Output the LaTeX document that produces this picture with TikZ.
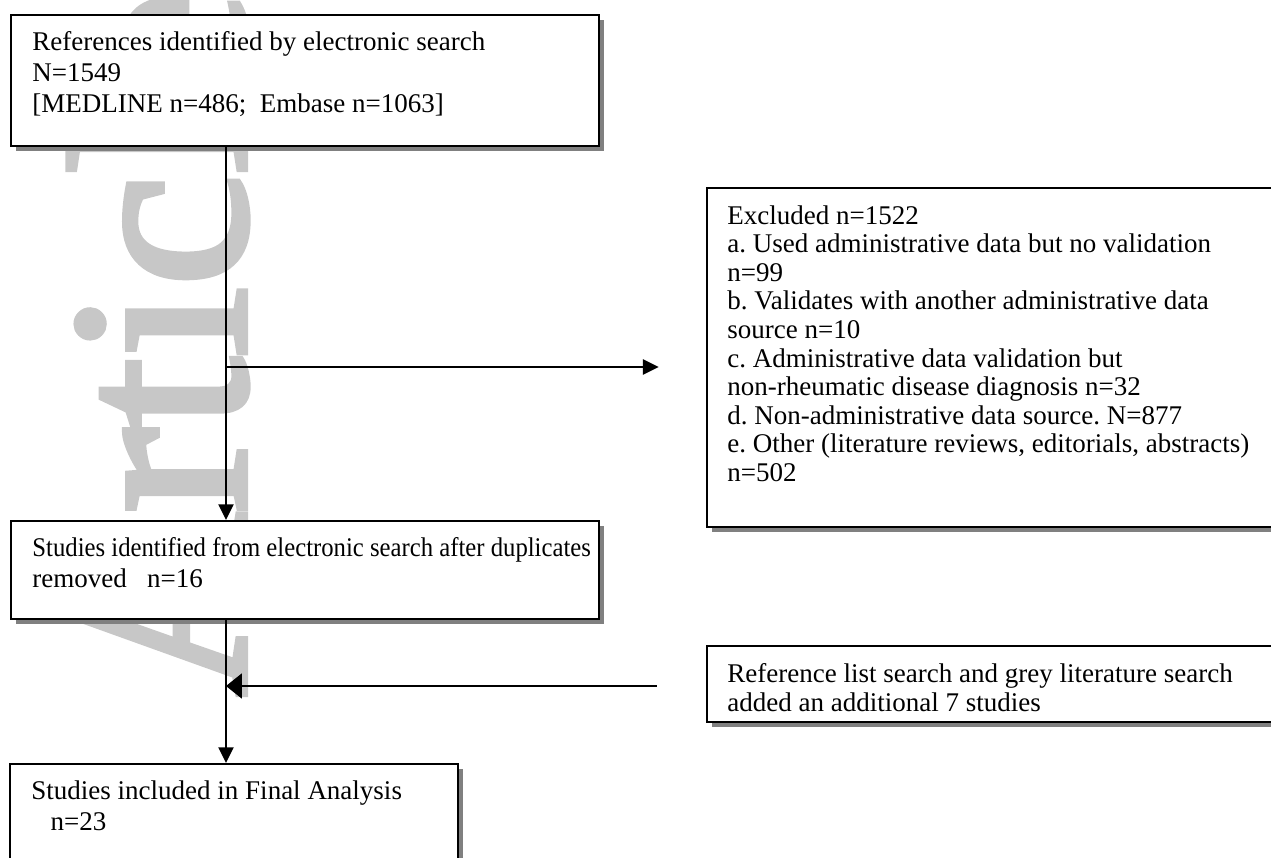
\documentclass[tikz,border=0pt]{standalone}
\usepackage{graphicx}
\usepackage{fontspec}
\setmainfont{Liberation Serif}
\newfontfamily\stampfont{Liberation Serif}[FakeBold=2.5]
\usetikzlibrary{shapes,arrows.meta,positioning,shadows}

\begin{document}
\begin{tikzpicture}[x=0.4444pt, y=-0.4444pt,
    frame/.style={rectangle, draw=black, line width=0.9pt, fill=white, anchor=north west, inner sep=0pt, drop shadow={shadow xshift=2.2pt, shadow yshift=-2.2pt, fill=black!50, opacity=1}},
    lefttext/.style={anchor=north west, inner sep=0pt, align=left, font=\fontsize{12}{13.8}\selectfont\frenchspacing},
    righttext/.style={anchor=north west, inner sep=0pt, align=left, font=\fontsize{12}{12.7}\selectfont\frenchspacing},
    flow/.style={line width=0.8pt, -{Triangle[length=7pt, width=6.7pt]}},
    watermark/.style={rotate=90, anchor=base east, inner sep=0pt, text=black!22, font=\stampfont\fontsize{113}{113}\selectfont}
]
\useasboundingbox (0,0) rectangle (1271,857);

% Watermark
\node[watermark] (stamp) at (245,-10) {Article};

% Left column
\node[frame, minimum width=261.3pt, minimum height=58.2pt] (refs) at (10,14) {};
\node[lefttext] (refstext) at ([shift={(22,17)}]refs.north west) {References identified by electronic search\\ N=1549\\ {[}MEDLINE n=486;\ \ Embase n=1063]};

\node[frame, minimum width=261.3pt, minimum height=43.6pt] (dedup) at (10,520) {};
\node[lefttext] (deduptext) at ([shift={(22,17)}]dedup.north west) {\scalebox{0.915}[1]{Studies identified from electronic search after duplicates}\\ removed\ \ \ n=16};

\node[frame, minimum width=199.1pt, minimum height=66.7pt] (final) at (9,763) {};
\node[lefttext] (finaltext) at ([shift={(22,17)}]final.north west) {Studies included in Final Analysis\\ \hspace*{8.5pt}n=23};

% Right column
\node[frame, minimum width=266.7pt, minimum height=150.7pt] (excl) at (706,187) {};
\node[righttext] (excltext) at ([shift={(21,18)}]excl.north west) {Excluded n=1522\\ a. Used administrative data but no validation\\ n=99\\ b. Validates with another administrative data\\ source n=10\\ c. Administrative data validation but\\ non-rheumatic disease diagnosis n=32\\ d. Non-administrative data source. N=877\\ e. Other (literature reviews, editorials, abstracts)\\ n=502};

\node[frame, minimum width=266.7pt, minimum height=33.8pt] (extra) at (706,645) {};
\node[righttext] (extratext) at ([shift={(21,18)}]extra.north west) {Reference list search and grey literature search\\ added an additional 7 studies};

% Connectors
\coordinate (split) at (226,367);
\coordinate (merge) at (226,686);
\draw[flow] (refs.south -| split) -- (dedup.north -| split);
\draw[flow, shorten >=21pt] (split) -- (split -| excl.west);
\draw[flow, shorten <=22pt, -{Triangle[length=7pt, width=11pt]}] (merge -| extra.west) -- (merge);
\draw[flow] (dedup.south -| merge) -- (final.north -| merge);

\end{tikzpicture}
\end{document}
